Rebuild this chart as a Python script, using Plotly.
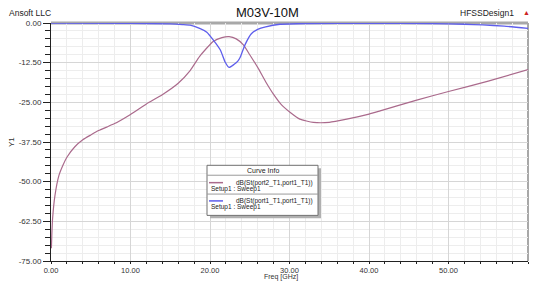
import plotly.graph_objects as go

# ---- data ----
freq_s21 = [0.05, 0.1, 0.2, 0.5, 1.0, 1.5, 2.0, 3.0, 4.0, 5.0, 6.0, 7.0, 8.0, 10.0, 12.0, 14.0,
            16.0, 17.5, 18.7, 20.4, 21.5, 22.4, 23.3, 24.2, 25.0, 26.0, 27.0, 28.0, 29.0, 30.1,
            31.3, 33.0, 35.0, 37.2, 40.0, 41.4, 46.0, 50.0, 55.0, 60.0]
s21_db = [-71.0, -67.0, -61.6, -54.3, -48.0, -44.8, -42.3, -39.0, -36.8, -35.3, -33.9, -32.8, -31.7,
          -28.8, -25.5, -22.6, -19.0, -15.0, -10.5, -5.8, -4.6, -4.3, -5.0, -6.9, -10.0, -14.0,
          -18.5, -22.5, -25.8, -28.2, -30.3, -31.3, -31.3, -30.3, -28.7, -27.7, -24.3, -21.6,
          -18.3, -14.7]

freq_s11 = [0.0, 10.0, 15.0, 16.5, 17.5, 18.7, 19.6, 20.4, 21.3, 21.9, 22.4, 23.0, 23.5, 23.8,
            24.4, 25.2, 26.0, 27.0, 28.8, 32.0, 40.0, 48.0, 52.0, 54.3, 57.0, 60.0]
s11_db = [-0.05, -0.1, -0.3, -0.5, -0.7, -1.7, -2.9, -5.3, -8.5, -12.3, -14.0, -13.1, -12.0,
          -10.8, -6.9, -3.4, -2.0, -1.2, -0.4, -0.15, -0.1, -0.2, -0.4, -0.6, -1.0, -1.7]

x_ticks = [0, 10, 20, 30, 40, 50, 60]
y_ticks = [0, -12.5, -25, -37.5, -50, -62.5, -75]

names = ["dB(St(port2_T1,port1_T1))", "dB(St(port1_T1,port1_T1))"]
colors = ["#aa6a8c", "#5e5eec"]

W, H = 534, 281
L, R, T, B = 51, 528, 23, 263


def px(xp):
    return (xp - L) / (R - L)


def py(yp):
    return (B - yp) / (B - T)


FONT = "Liberation Sans, Arial, sans-serif"

fig = go.Figure()
fig.add_trace(go.Scatter(x=freq_s21, y=s21_db, mode="lines", name=names[0],
                         line=dict(color=colors[0], width=1.2, shape="spline", smoothing=0.5)))
fig.add_trace(go.Scatter(x=freq_s11, y=s11_db, mode="lines", name=names[1],
                         line=dict(color=colors[1], width=1.3, shape="spline", smoothing=0.5)))

fig.update_layout(
    width=W, height=H,
    margin=dict(l=L, r=W - R, t=T, b=H - B, pad=0),
    paper_bgcolor="white", plot_bgcolor="white",
    showlegend=False,
    font=dict(family=FONT, size=8, color="#333333"),
)
fig.update_xaxes(
    range=[0, 60], tickvals=x_ticks, ticktext=[f"{v:.2f}" for v in x_ticks],
    showgrid=True, gridcolor="#d6d6d6", gridwidth=1,
    showline=True, linecolor="#222222", linewidth=1,
    ticks="outside", ticklen=2, tickcolor="#222222",
    minor=dict(dtick=2, showgrid=True, gridcolor="#ededed", ticks="outside", ticklen=2, tickcolor="#222222"),
    zeroline=False, tickfont=dict(size=7.5, color="#333333"),
)
fig.update_yaxes(
    range=[-75, 0], tickvals=y_ticks, ticktext=[f"{v:.2f}" for v in y_ticks],
    showgrid=True, gridcolor="#d6d6d6", gridwidth=1,
    showline=True, linecolor="#222222", linewidth=1,
    ticks="outside", ticklen=7, tickcolor="#222222",
    minor=dict(dtick=2.5, showgrid=True, gridcolor="#ededed", ticks="outside", ticklen=5, tickcolor="#222222"),
    zeroline=False, tickfont=dict(size=8, color="#333333"),
)

shapes = []
# top and right gray borders
shapes.append(dict(type="line", xref="paper", yref="paper", x0=0, x1=1, y0=1, y1=1,
                   line=dict(color="#a8a8a8", width=3), layer="between"))
shapes.append(dict(type="line", xref="paper", yref="paper", x0=1, x1=1, y0=0, y1=1,
                   line=dict(color="#a8a8a8", width=2), layer="between"))

# legend box "Curve Info"
bx0, bx1, by0, by1 = 207, 318, 166.5, 217
shapes.append(dict(type="rect", xref="paper", yref="paper",
                   x0=px(bx0 + 3), x1=px(bx1 + 3), y0=py(by1 + 3), y1=py(by0 + 3),
                   fillcolor="#b0b0b0", line=dict(width=0), layer="above"))
shapes.append(dict(type="rect", xref="paper", yref="paper",
                   x0=px(bx0), x1=px(bx1), y0=py(by1), y1=py(by0),
                   fillcolor="white", line=dict(color="#707070", width=1), layer="above"))
for sy in (176.5, 195.5):
    shapes.append(dict(type="line", xref="paper", yref="paper", x0=px(bx0), x1=px(bx1),
                       y0=py(sy), y1=py(sy), line=dict(color="#9a9a9a", width=1), layer="above"))
for i, ly in enumerate((184.0, 202.4)):
    shapes.append(dict(type="line", xref="paper", yref="paper", x0=px(209), x1=px(223),
                       y0=py(ly), y1=py(ly), line=dict(color=colors[i], width=1.5), layer="above"))

fig.update_layout(shapes=shapes)


def note(text, xp, yp, size, xanchor="center", yanchor="middle", color="#222222", **kw):
    return dict(text=text, x=px(xp), y=py(yp), xref="paper", yref="paper",
                xanchor=xanchor, yanchor=yanchor, showarrow=False,
                font=dict(size=size, color=color, family=FONT), **kw)


ann = [
    note("M03V-10M", 267, 12, 13, color="#111111"),
    note("Ansoft LLC", 7, 12.5, 8.5, xanchor="left"),
    note("HFSSDesign1", 516, 12.5, 8.5, xanchor="right"),
    note("▲", 526, 12, 7, color="#cc2222"),
    note("Y1", 11, 143, 8, color="#333333", textangle=-90),
    note("Freq [GHz]", 281, 279, 7, color="#333333"),
    note("Curve Info", (bx0 + bx1) / 2, 171.3, 7),
]
for i, (ty, sy) in enumerate(((184.0, 190.3), (202.4, 208.5))):
    ann.append(note(names[i], 315, ty, 6.5, xanchor="right"))
    ann.append(note("Setup1 : Sweep1", 209, sy, 6.5, xanchor="left"))
fig.update_layout(annotations=ann)

fig.write_html(
    "out.html", config={"displayModeBar": False},
    post_script=("document.body.style.margin='0px';"
                 "document.body.style.overflow='hidden';"
                 "document.documentElement.style.overflow='hidden';"),
)
